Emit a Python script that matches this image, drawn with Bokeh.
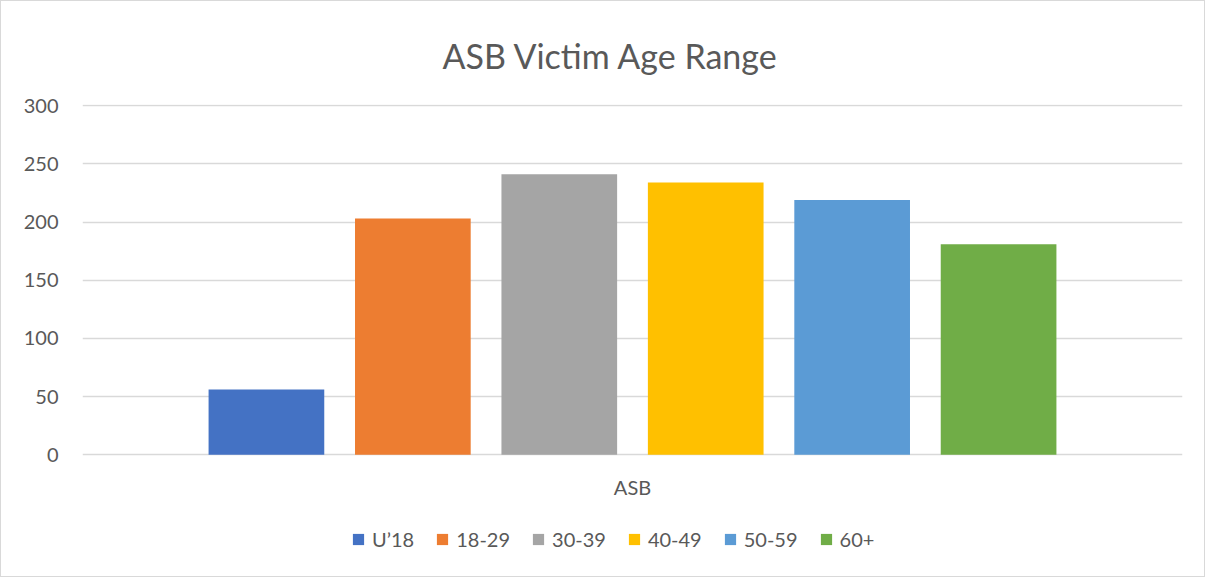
from bokeh.plotting import figure
from bokeh.models import (FactorRange, Range1d, FixedTicker, Legend, LegendItem,
                          ColumnDataSource)
from bokeh.core.properties import value
from bokeh.embed import file_html
from bokeh.resources import INLINE

# ---- data ----
category = ["ASB"]
age_groups = ["U\u201918", "18-29", "30-39", "40-49", "50-59", "60+"]
victims = [56, 203, 241, 234, 219, 181]
colors = ["#4472C4", "#ED7D31", "#A5A5A5", "#FFC000", "#5B9BD5", "#70AD47"]
y_ticks = [0, 50, 100, 150, 200, 250, 300]

FONT = "Lato"
TXT = "#595959"

src = ColumnDataSource(dict(x=age_groups, top=victims, color=colors))

# frame runs from the top gridline down to the canvas bottom so that the
# category label and legend (below zero) sit inside it
p = figure(width=1205, height=577, output_backend="svg", toolbar_location=None,
           x_range=FactorRange(*age_groups, range_padding=0.252),
           y_range=Range1d(-106.3, 301),
           min_border_left=81, min_border_right=24, min_border_top=103, min_border_bottom=0)
p.outline_line_color = None
p.background_fill_color = "white"
p.border_fill_color = "white"
p.styles = {"border": "1px solid #d9d9d9"}

r = p.vbar(x="x", top="top", width=0.79, color="color", source=src, line_color=None)

# y axis
p.yaxis.ticker = FixedTicker(ticks=y_ticks)
p.yaxis.axis_line_color = None
p.yaxis.major_tick_line_color = None
p.yaxis.minor_tick_line_color = None
p.yaxis.major_label_standoff = 18
p.yaxis.major_label_text_font = FONT
p.yaxis.major_label_text_font_size = "20px"
p.yaxis.major_label_text_color = TXT

# x axis hidden; category name drawn on its own categorical range
p.xaxis.visible = False
p.extra_x_ranges = {"cat": FactorRange(*category)}
p.text(x=category, y=[-28], text=category, x_range_name="cat",
       text_font=value(FONT), text_font_size="20px", text_color=TXT,
       text_align="center", text_baseline="middle")

p.xgrid.grid_line_color = None
p.ygrid.grid_line_color = "#d9d9d9"
p.ygrid.grid_line_width = 1.5

# title
p.title.text = "ASB Victim Age Range"
p.title.align = "left"
p.title.offset = 360
p.title.standoff = 58
p.title.text_font = FONT
p.title.text_font_size = "34px"
p.title.text_font_style = "normal"
p.title.text_color = TXT

# legend
items = [LegendItem(label=g, renderers=[r], index=i) for i, g in enumerate(age_groups)]
legend = Legend(items=items, orientation="horizontal", location=(269, 27),
                glyph_width=14, glyph_height=14, label_standoff=7, spacing=21,
                padding=0, margin=0, border_line_color=None, background_fill_alpha=0,
                label_text_font=FONT, label_text_font_size="20px", label_text_color=TXT)
p.add_layout(legend, "center")

open("out.html", "w").write(file_html(p, INLINE))
